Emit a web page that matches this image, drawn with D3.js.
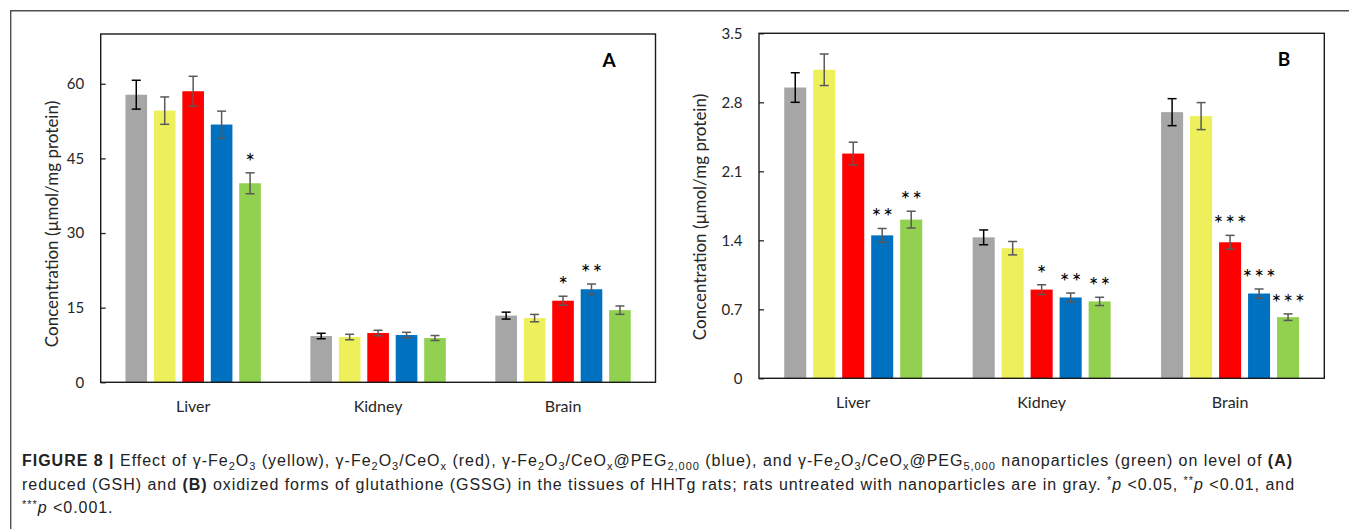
<!DOCTYPE html>
<html>
<head>
<meta charset="utf-8">
<script src="https://cdn.jsdelivr.net/npm/d3@7"></script>
<style>
  html, body { margin: 0; padding: 0; background: #fff; }
  svg { display: block; }
</style>
</head>
<body>
<svg id="fig" width="1349" height="529"></svg>
<script>
// tissues and treatment groups
const categories = ['Liver', 'Kidney', 'Brain'];
const groups = ['untreated', 'γ-Fe2O3', 'γ-Fe2O3/CeOx', 'γ-Fe2O3/CeOx@PEG2,000', 'γ-Fe2O3/CeOx@PEG5,000'];
const groupColors = ['#a6a6a6', '#edf05a', '#ff0000', '#0070c0', '#92d050'];

// panel A: reduced glutathione (GSH), per tissue, per group
const gshMeans = [
  [57.8, 54.6, 58.5, 51.8, 40.0],
  [9.3, 9.1, 9.9, 9.5, 8.9],
  [13.4, 12.9, 16.4, 18.7, 14.5]
];
const gshErrors = [
  [2.9, 2.75, 3.0, 2.7, 2.1],
  [0.55, 0.55, 0.55, 0.55, 0.5],
  [0.7, 0.74, 0.9, 1.05, 0.84]
];
const gshStars = [
  ['', '', '', '', '*'],
  ['', '', '', '', ''],
  ['', '', '*', '**', '']
];
const gshTicks = [0, 15, 30, 45, 60];
const gshTickLabels = ['0', '15', '30', '45', '60'];

// panel B: oxidized glutathione (GSSG)
const gssgMeans = [
  [2.95, 3.13, 2.28, 1.45, 1.61],
  [1.43, 1.32, 0.9, 0.82, 0.78],
  [2.7, 2.66, 1.38, 0.86, 0.62]
];
const gssgErrors = [
  [0.15, 0.16, 0.115, 0.07, 0.085],
  [0.075, 0.068, 0.049, 0.045, 0.042],
  [0.137, 0.137, 0.07, 0.046, 0.033]
];
const gssgStars = [
  ['', '', '', '**', '**'],
  ['', '', '*', '**', '**'],
  ['', '', '***', '***', '***']
];
const gssgTicks = [0, 0.7, 1.4, 2.1, 2.8, 3.5];
const gssgTickLabels = ['0', '0.7', '1.4', '2.1', '2.8', '3.5'];

const yTitle = 'Concentration (µmol/mg protein)';
const chartFont = 'Lato, "Open Sans", sans-serif';

const svg = d3.select('#fig');

// outer figure frame (top and left rule)
svg.append('path')
  .attr('d', 'M10.7,529V10.7H1349')
  .attr('fill', 'none')
  .attr('stroke', '#505050')
  .attr('stroke-width', 1.4);

function drawPanel(opt) {
  const { left, right, top, bottom, yMax, means, errors, stars, ticks, tickLabels, letter, letterX, titleX, titleY } = opt;
  const g = svg.append('g');

  const x0 = d3.scaleBand().domain(categories).range([left, right]);
  const x1 = d3.scaleBand().domain(groups).range([0, x0.bandwidth()])
    .paddingInner(0.24).paddingOuter(0.87);
  const y = d3.scaleLinear().domain([0, yMax]).range([bottom, top]);

  // y axis, ticks pointing inside
  const axis = d3.axisLeft(y)
    .tickValues(ticks)
    .tickSize(-5)
    .tickPadding(16.5)
    .tickFormat((d, i) => tickLabels[i]);
  const ag = g.append('g').attr('transform', `translate(${left},0)`).call(axis);
  ag.select('.domain').remove();
  ag.selectAll('.tick line').attr('stroke', '#262626').attr('stroke-width', 1.3);
  ag.selectAll('.tick text')
    .attr('font-family', chartFont)
    .attr('font-size', 15)
    .attr('fill', '#262626');

  // bars + error bars + significance marks
  categories.forEach((cat, ci) => {
    const cg = g.append('g').attr('transform', `translate(${x0(cat)},0)`);
    const rows = groups.map((grp, gi) => ({
      grp, gi,
      v: means[ci][gi],
      e: errors[ci][gi],
      s: stars[ci][gi]
    }));

    cg.selectAll('rect')
      .data(rows)
      .enter()
      .append('rect')
      .attr('x', d => x1(d.grp))
      .attr('width', x1.bandwidth())
      .attr('y', d => y(d.v))
      .attr('height', d => bottom - y(d.v))
      .attr('fill', d => groupColors[d.gi]);

    const eb = cg.selectAll('.err')
      .data(rows)
      .enter()
      .append('g')
      .attr('class', 'err')
      .attr('stroke', d => d.gi === 0 ? '#000' : '#595959')
      .attr('stroke-width', 1.5);
    const cx = d => x1(d.grp) + x1.bandwidth() / 2;
    eb.append('line')
      .attr('x1', cx).attr('x2', cx)
      .attr('y1', d => y(d.v + d.e)).attr('y2', d => y(d.v - d.e));
    eb.append('line')
      .attr('x1', d => cx(d) - 4.5).attr('x2', d => cx(d) + 4.5)
      .attr('y1', d => y(d.v + d.e)).attr('y2', d => y(d.v + d.e));
    eb.append('line')
      .attr('x1', d => cx(d) - 4.5).attr('x2', d => cx(d) + 4.5)
      .attr('y1', d => y(d.v - d.e)).attr('y2', d => y(d.v - d.e));

    cg.selectAll('.star')
      .data(rows.filter(d => d.s))
      .enter()
      .append('text')
      .attr('class', 'star')
      .attr('x', d => cx(d) + 1)
      .attr('y', d => y(d.v + d.e) - 3)
      .attr('text-anchor', 'middle')
      .attr('font-family', chartFont)
      .attr('font-size', 23)
      .attr('letter-spacing', 2)
      .attr('fill', '#000')
      .text(d => d.s);
  });

  // category labels
  g.selectAll('.cat')
    .data(categories)
    .enter()
    .append('text')
    .attr('class', 'cat')
    .attr('x', d => x0(d) + x0.bandwidth() / 2)
    .attr('y', bottom + 29.5)
    .attr('text-anchor', 'middle')
    .attr('font-family', chartFont)
    .attr('font-size', 16)
    .attr('fill', '#262626')
    .text(d => d);

  // plot frame
  g.append('rect')
    .attr('x', left).attr('y', top)
    .attr('width', right - left).attr('height', bottom - top)
    .attr('fill', 'none')
    .attr('stroke', '#1a1a1a')
    .attr('stroke-width', 1.4);

  // y title
  g.append('text')
    .attr('transform', `translate(${titleX},${titleY}) rotate(-90)`)
    .attr('text-anchor', 'middle')
    .attr('font-family', chartFont)
    .attr('font-size', 17)
    .attr('fill', '#262626')
    .text(yTitle);

  // panel letter
  g.append('text')
    .attr('x', letterX)
    .attr('y', top + 32.5)
    .attr('text-anchor', 'middle')
    .attr('font-family', chartFont)
    .attr('font-size', 19)
    .attr('font-weight', 'bold')
    .attr('fill', '#000')
    .text(letter);
}

drawPanel({
  left: 100.7, right: 655.5, top: 34, bottom: 382.3, yMax: 70,
  means: gshMeans, errors: gshErrors, stars: gshStars,
  ticks: gshTicks, tickLabels: gshTickLabels,
  letter: 'A', letterX: 609, titleX: 58, titleY: 224
});

drawPanel({
  left: 759, right: 1324.3, top: 33.3, bottom: 378.3, yMax: 3.5,
  means: gssgMeans, errors: gssgErrors, stars: gssgStars,
  ticks: gssgTicks, tickLabels: gssgTickLabels,
  letter: 'B', letterX: 1284, titleX: 706, titleY: 217
});

// caption, one array of [text, style] runs per line
const captionLines = [
  [['FIGURE 8 | ', 'b'], ['Effect of γ-Fe'], ['2', 'sub'], ['O'], ['3', 'sub'], [' (yellow), γ-Fe'], ['2', 'sub'], ['O'], ['3', 'sub'],
   ['/CeO'], ['x', 'sub'], [' (red), γ-Fe'], ['2', 'sub'], ['O'], ['3', 'sub'], ['/CeO'], ['x', 'sub'], ['@PEG'], ['2,000', 'sub'],
   [' (blue), and γ-Fe'], ['2', 'sub'], ['O'], ['3', 'sub'], ['/CeO'], ['x', 'sub'], ['@PEG'], ['5,000', 'sub'],
   [' nanoparticles (green) on level of '], ['(A)', 'b']],
  [['reduced (GSH) and '], ['(B)', 'b'], [' oxidized forms of glutathione (GSSG) in the tissues of HHTg rats; rats untreated with nanoparticles are in gray. '],
   ['*', 'sup'], ['p', 'i'], [' <0.05, '], ['**', 'sup'], ['p', 'i'], [' <0.01, and']],
  [['***', 'sup'], ['p', 'i'], [' <0.001.']]
];
const captionBaselines = [466, 489.5, 513];
const captionEnds = [1293, 1295, null];

const cap = svg.append('g')
  .attr('font-family', '"Liberation Sans", Arial, sans-serif')
  .attr('font-size', 16)
  .attr('fill', '#222');

let lastSpacing = 0;
captionLines.forEach((runs, li) => {
  const t = cap.append('text').attr('x', 22).attr('y', captionBaselines[li]);
  let shift = 0;
  runs.forEach(([txt, st]) => {
    const want = st === 'sub' ? 4 : st === 'sup' ? -5.5 : 0;
    const ts = t.append('tspan').attr('dy', want - shift).text(txt);
    shift = want;
    if (st === 'b') ts.attr('font-weight', 'bold');
    if (st === 'i') ts.attr('font-style', 'italic');
    if (st === 'sub' || st === 'sup') ts.attr('font-size', 11);
  });
  // widen the letter spacing until the line ends where the printed one does
  if (captionEnds[li]) {
    const n = runs.reduce((s, r) => s + r[0].length, 0);
    let sp = 0;
    for (let k = 0; k < 4; k++) {
      t.attr('letter-spacing', sp);
      const bb = t.node().getBBox();
      sp += (captionEnds[li] - (bb.x + bb.width)) / n;
    }
    lastSpacing = sp;
  }
  t.attr('letter-spacing', lastSpacing);
});
</script>
</body>
</html>
